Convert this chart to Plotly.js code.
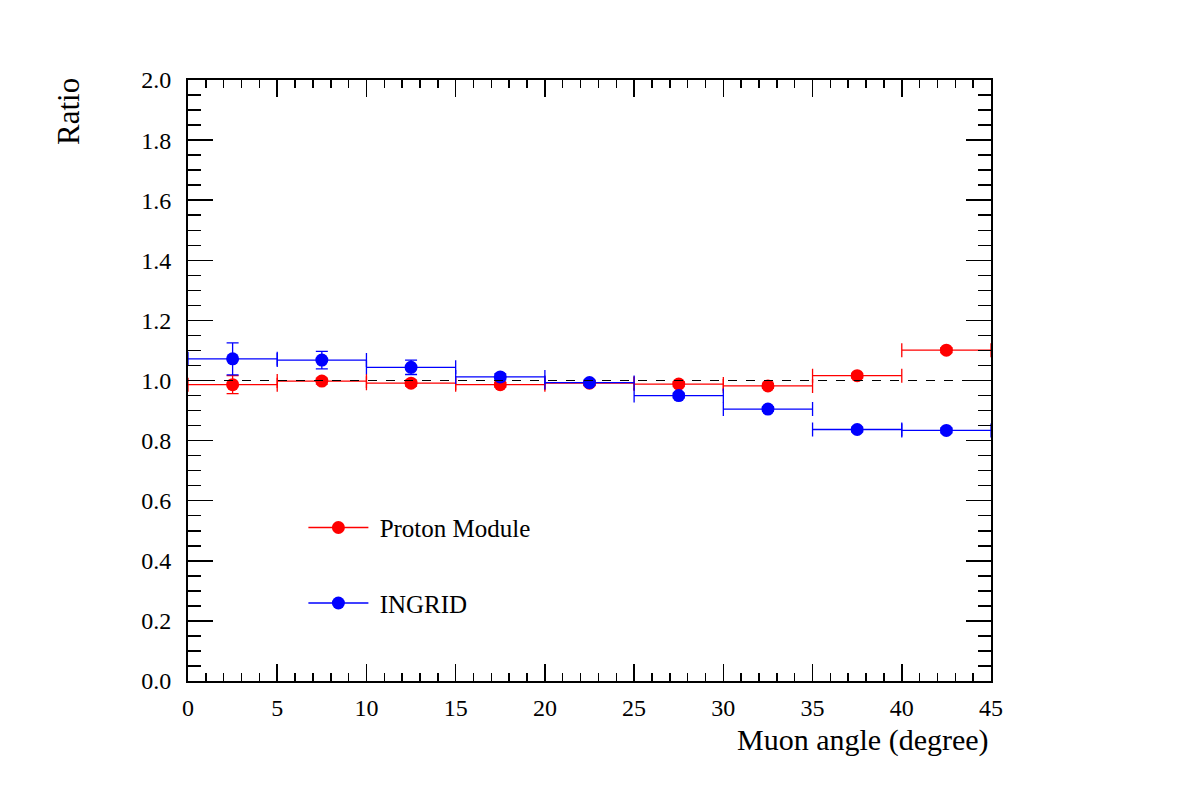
<!DOCTYPE html>
<html>
<head>
<meta charset="utf-8">
<script src="https://cdn.plot.ly/plotly-3.0.1.min.js"></script>
<style>html,body{margin:0;padding:0;background:#fff;}#chart{width:1182px;height:803px;}</style>
</head>
<body>
<div id="chart"></div>
<script>
var binCenters = [2.5, 7.5, 12.5, 17.5, 22.5, 27.5, 32.5, 37.5, 42.5];
var binHalfWidth = [2.5, 2.5, 2.5, 2.5, 2.5, 2.5, 2.5, 2.5, 2.5];
var protonRatio = [0.986, 0.998, 0.991, 0.986, 0.991, 0.988, 0.982, 1.016, 1.101];
var protonErr = [0.030, 0.010, 0.010, 0.008, 0.008, 0.008, 0.008, 0.008, 0.008];
var ingridRatio = [1.072, 1.068, 1.044, 1.012, 0.993, 0.950, 0.905, 0.837, 0.834];
var ingridErr = [0.053, 0.029, 0.024, 0.010, 0.008, 0.008, 0.008, 0.008, 0.008];
var seriesNames = ['Proton Module', 'INGRID'];
var referenceLevel = 1.0;
var xRange = [0, 45];
var yRange = [0, 2];

var FONT = 'Liberation Serif, Times New Roman, serif';
function dataTrace(y, ey, color) {
  return {
    x: binCenters, y: y, type: 'scatter', mode: 'markers', showlegend: false,
    marker: {color: color, size: 13, symbol: 'circle'},
    error_x: {type: 'data', array: binHalfWidth, visible: true, color: color, thickness: 1.3, width: 7},
    error_y: {type: 'data', array: ey, visible: true, color: color, thickness: 1.3, width: 6},
    cliponaxis: false
  };
}
function legendTrace(name, color, grp) {
  return {x: [null], y: [null], type: 'scatter', mode: 'lines+markers', name: '\u00a0' + name,
    legendgroup: grp, line: {color: color, width: 1.3}, marker: {color: color, size: 13}};
}
var traces = [
  dataTrace(protonRatio, protonErr, '#ff0000'),
  dataTrace(ingridRatio, ingridErr, '#0000ff'),
  legendTrace(seriesNames[0], '#ff0000', 'a'),
  legendTrace(seriesNames[1], '#0000ff', 'b')
];
var axisCommon = {
  showgrid: false, zeroline: false, showline: true, linecolor: '#000', linewidth: 2,
  mirror: 'allticks', ticks: 'inside', tickcolor: '#000', tickwidth: 1.5,
  tickfont: {family: FONT, size: 24, color: '#000'}
};
var layout = {
  width: 1182, height: 803,
  margin: {l: 188, r: 191, t: 80, b: 122},
  paper_bgcolor: '#fff', plot_bgcolor: '#fff',
  font: {family: FONT, color: '#000'},
  xaxis: Object.assign({}, axisCommon, {range: xRange, dtick: 5, tick0: 0, ticklen: 17, ticklabelstandoff: 4,
    minor: {dtick: 1, ticklen: 8, ticks: 'inside', tickcolor: '#000', tickwidth: 1.5}}),
  yaxis: Object.assign({}, axisCommon, {range: yRange, dtick: 0.2, tick0: 0, ticklen: 25, tickformat: '.1f', ticklabelstandoff: 10,
    minor: {dtick: 0.05, ticklen: 13, ticks: 'inside', tickcolor: '#000', tickwidth: 1.5}}),
  showlegend: true,
  legend: {x: 0.1437, y: 0.2933, xanchor: 'left', yanchor: 'top', bgcolor: 'rgba(0,0,0,0)',
    font: {family: FONT, size: 25, color: '#000'}, itemwidth: 60, traceorder: 'grouped', tracegroupgap: 40},
  shapes: [{type: 'line', xref: 'x', yref: 'y', x0: xRange[0], x1: xRange[1], y0: referenceLevel, y1: referenceLevel,
    line: {color: '#000', width: 1.2, dash: 'dash'}, layer: 'above'}],
  annotations: [
    {text: 'Muon angle (degree)', xref: 'paper', yref: 'paper', x: 1, y: 0, xanchor: 'right', yanchor: 'top',
      yshift: -40, showarrow: false, font: {family: FONT, size: 30, color: '#000'}},
    {text: 'Ratio', xref: 'paper', yref: 'paper', x: 0, y: 1, xanchor: 'right', yanchor: 'top',
      xshift: -100, yshift: 4, textangle: -90, showarrow: false, font: {family: FONT, size: 31, color: '#000'}}
  ]
};
Plotly.newPlot('chart', traces, layout, {displayModeBar: false, staticPlot: true});
</script>
</body>
</html>
